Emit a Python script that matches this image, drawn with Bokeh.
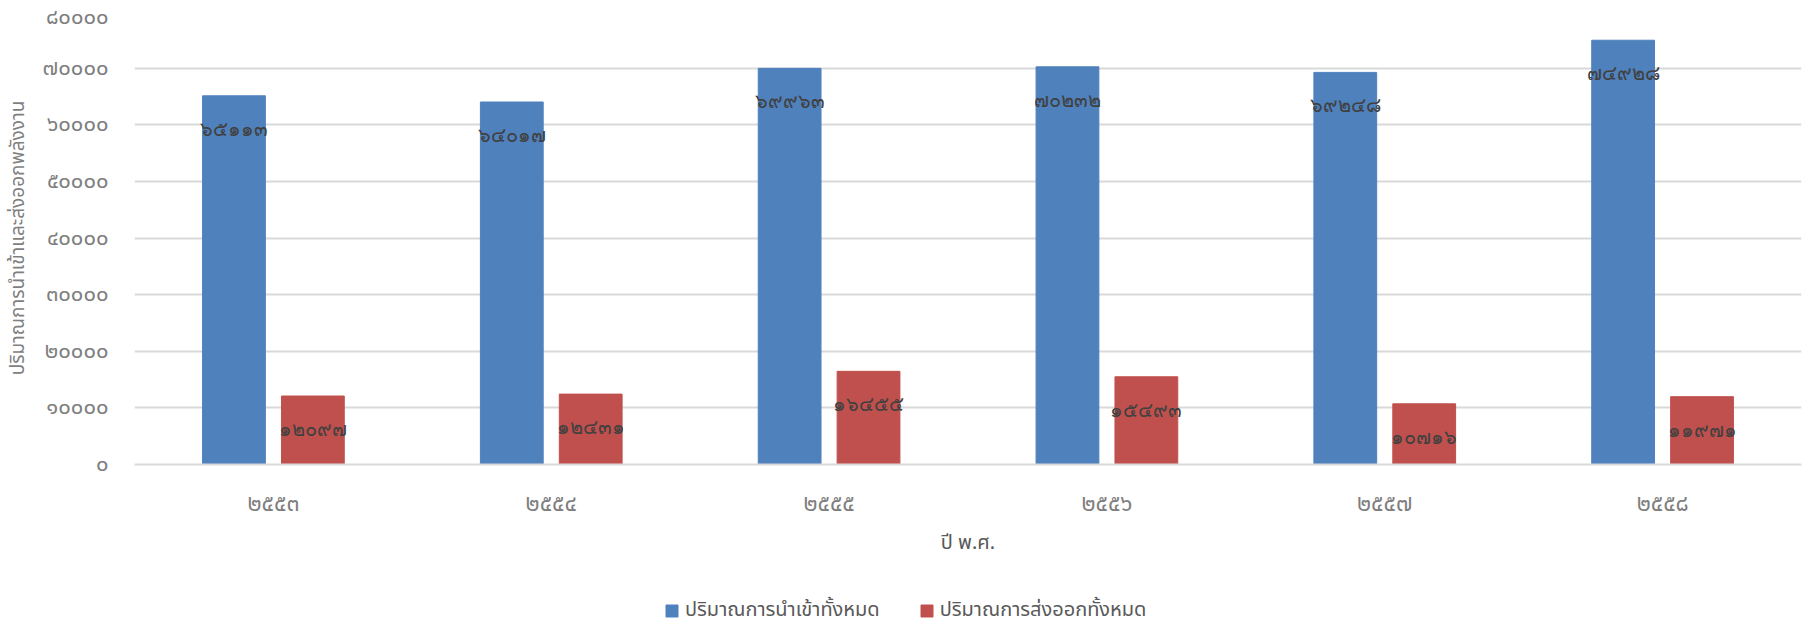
from bokeh.plotting import figure
from bokeh.layouts import column
from bokeh.models import ColumnDataSource, FactorRange, Range1d, LabelSet, Legend, LegendItem, CustomJSTickFormatter, FixedTicker
from bokeh.transform import dodge
from bokeh.embed import file_html
from bokeh.resources import INLINE

years = ["๒๕๕๓", "๒๕๕๔", "๒๕๕๕", "๒๕๕๖", "๒๕๕๗", "๒๕๕๘"]
imports = [65113, 64017, 69963, 70232, 69248, 74928]
exports = [12097, 12431, 16455, 15493, 10716, 11971]
series_names = ["ปริมาณการนำเข้าทั้งหมด", "ปริมาณการส่งออกทั้งหมด"]
y_ticks = [0, 10000, 20000, 30000, 40000, 50000, 60000, 70000, 80000]

THAI = "๐๑๒๓๔๕๖๗๘๙"
def thai(n):
    return "".join(THAI[int(c)] for c in str(n))

FONT = "'Noto Sans Thai', 'Noto Sans'"
BLUE = "#4F81BD"
RED = "#C0504D"

W = 1810
H1, H2 = 566, 60

src = ColumnDataSource(dict(
    year=years, imp=imports, exp=exports,
    imp_t=[thai(v) for v in imports], exp_t=[thai(v) for v in exports],
))

p = figure(x_range=FactorRange(*years), y_range=Range1d(0, 80000),
           width=W, height=H1, output_backend="svg", toolbar_location=None,
           min_border_left=134, min_border_right=9, min_border_top=11, min_border_bottom=102)
p.outline_line_color = None

off = 0.142
bw = 0.226
r1 = p.vbar(x=dodge("year", -off, range=p.x_range), top="imp", width=bw, source=src,
            fill_color=BLUE, line_color=BLUE)
r2 = p.vbar(x=dodge("year", off, range=p.x_range), top="exp", width=bw, source=src,
            fill_color=RED, line_color=RED)

for col, txt, o in (("imp", "imp_t", -off), ("exp", "exp_t", off)):
    p.add_layout(LabelSet(x=dodge("year", o, range=p.x_range), y=col, text=txt, source=src,
                          y_offset=-33, text_align="center", text_baseline="middle",
                          text_font=FONT, text_font_size="20px", text_color="#404040"))

p.xgrid.grid_line_color = None
p.ygrid.grid_line_color = "#d9d9d9"
p.ygrid.grid_line_width = 2
p.yaxis.ticker = FixedTicker(ticks=y_ticks)

p.yaxis.formatter = CustomJSTickFormatter(code="""
const d = "๐๑๒๓๔๕๖๗๘๙";
return String(tick).replace(/[0-9]/g, c => d[+c]);
""")
p.yaxis.axis_line_color = None
p.yaxis.major_tick_line_color = None
p.yaxis.minor_tick_line_color = None
p.yaxis.major_label_standoff = 20
p.yaxis.major_label_text_font = FONT
p.yaxis.major_label_text_font_size = "22px"
p.yaxis.major_label_text_color = "#7f7f7f"
p.yaxis.axis_label = "ปริมาณการนำเข้าและส่งออกพลังงาน"
p.yaxis.axis_label_text_font = FONT
p.yaxis.axis_label_text_font_size = "19px"
p.yaxis.axis_label_text_font_style = "normal"
p.yaxis.axis_label_text_color = "#7f7f7f"
p.yaxis.axis_label_standoff = 6

p.xaxis.axis_line_color = "#d9d9d9"
p.xaxis.axis_line_width = 2
p.xaxis.major_tick_line_color = None
p.xaxis.minor_tick_line_color = None
p.xaxis.major_label_standoff = 16
p.xaxis.major_label_text_font = FONT
p.xaxis.major_label_text_font_size = "23px"
p.xaxis.major_label_text_color = "#7f7f7f"
p.xaxis.axis_label = "ปี พ.ศ."
p.xaxis.axis_label_text_font = FONT
p.xaxis.axis_label_text_font_size = "20px"
p.xaxis.axis_label_text_font_style = "normal"
p.xaxis.axis_label_text_color = "#595959"
p.xaxis.axis_label_standoff = 4

# legend strip under the chart (swatch renderers sit outside its visible range)
lf = figure(width=W, height=H2, output_backend="svg", toolbar_location=None,
            x_axis_type=None, y_axis_type=None,
            x_range=Range1d(0, 1), y_range=Range1d(0, 1),
            min_border_left=0, min_border_right=0, min_border_top=0, min_border_bottom=0)
lf.outline_line_color = None
lf.grid.grid_line_color = None
s1 = lf.vbar(x=[-5], top=[-5], bottom=[-6], width=0.1, fill_color=BLUE, line_color=BLUE)
s2 = lf.vbar(x=[-5], top=[-5], bottom=[-6], width=0.1, fill_color=RED, line_color=RED)
legend = Legend(items=[LegendItem(label=series_names[0], renderers=[s1]),
                       LegendItem(label=series_names[1], renderers=[s2])],
                orientation="horizontal", location=(530, 1),
                padding=0, margin=0, spacing=39, label_standoff=6,
                glyph_width=15, glyph_height=15, label_height=20,
                label_text_font=FONT, label_text_font_size="20px", label_text_color="#595959",
                border_line_color=None, background_fill_alpha=0)
lf.add_layout(legend, "center")

open("out.html", "w").write(file_html(column(p, lf, spacing=0), INLINE))
